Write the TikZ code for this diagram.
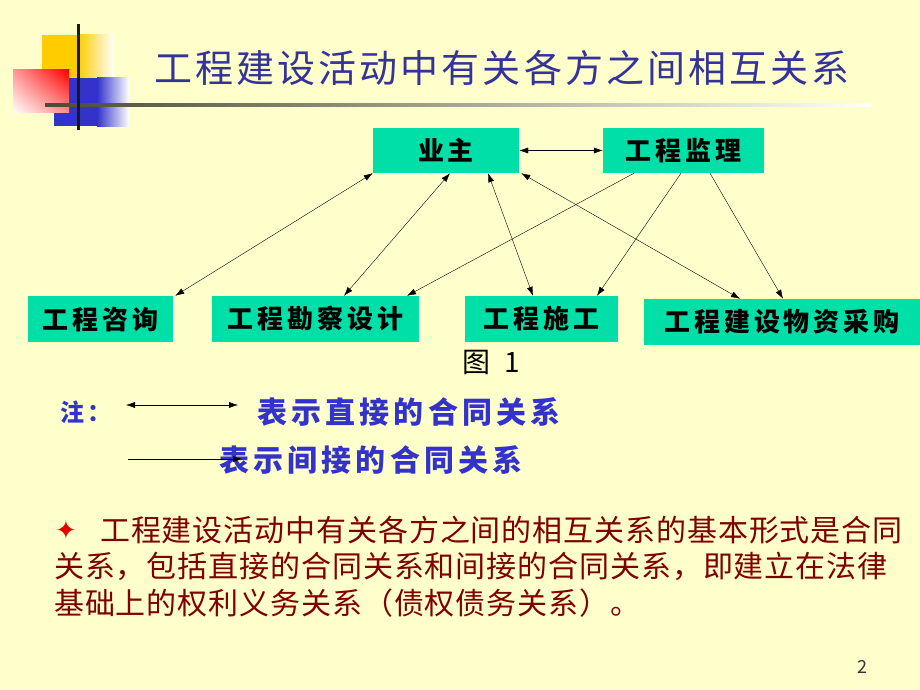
\documentclass[tikz,border=0pt]{standalone}
\usepackage{fontspec}
\setmainfont{Noto Sans CJK SC}
\newfontfamily\titlefont[LetterSpace=8]{Noto Sans CJK SC}
\newfontfamily\boxfont[LetterSpace=15]{Noto Sans CJK SC}
\newfontfamily\notefont[LetterSpace=14]{Noto Sans CJK SC}
\newfontfamily\bodyfont[LetterSpace=3]{Noto Sans CJK SC}
\newfontfamily\symfont{DejaVu Sans}
\usetikzlibrary{arrows.meta,shadings}
\definecolor{bg}{HTML}{FFFFCC}
\definecolor{boxgreen}{HTML}{00DFA8}
\definecolor{titleblue}{HTML}{333399}
\definecolor{noteblue}{HTML}{3333CC}
\definecolor{bodyred}{HTML}{800000}
\definecolor{gold}{HTML}{FFCC00}
\definecolor{decoblue}{HTML}{3333CC}
\definecolor{ruleline}{HTML}{4A4A35}
\begin{document}
\begin{tikzpicture}[x=1pt, y=-1pt,
  party/.style={fill=boxgreen, inner sep=0pt, minimum height=45pt,
    font=\boxfont\bfseries\fontsize{26}{30}\selectfont},
  both/.style={{Latex[length=9pt,width=6pt]}-{Latex[length=9pt,width=6pt]}},
  one/.style={-{Latex[length=9pt,width=6pt]}}]
\useasboundingbox[fill=bg] (0,0) rectangle (920,690);
% corner decoration
\fill[gold] (42,35) rectangle (78,78);
\shade[left color=gold, right color=white] (78,35) rectangle (114,78);
\fill[decoblue] (54,78) rectangle (97,126);
\shade[left color=decoblue, right color=white] (97,78) rectangle (129,126);
\shade[upper right=red, lower left=white, upper left=red!40!white, lower right=red!45!white]
  (13,70) rectangle (69,113);
\shade[left color=ruleline, right color=white] (45,104) rectangle (871,107);
\fill[black!90] (77,24) rectangle (80,130);
% title
\node (title) at (502,68) {\titlefont\color{titleblue}\fontsize{38}{44}\selectfont 工程建设活动中有关各方之间相互关系};
% parties
\node[party, minimum width=146pt] (yz) at (446,150.5) {业主};
\node[party, minimum width=161pt] (jl) at (683.5,150.5) {工程监理};
\node[party, minimum width=145pt, minimum height=46pt] (zx) at (100.5,319) {工程咨询};
\node[party, minimum width=207pt, minimum height=46pt] (kc) at (315.5,319) {工程勘察设计};
\node[party, minimum width=153pt, minimum height=46pt] (sg) at (541.5,319) {工程施工};
\node[party, minimum width=276pt, minimum height=46pt] (cg) at (782,322) {工程建设物资采购};
% relations
\draw[both] (yz) to (jl);
\draw[both] ([xshift=2pt]zx.north east) to (yz.south west);
\draw[both] ([xshift=28.5pt]kc.north) to ([xshift=4pt]yz.south);
\draw[both] ([xshift=-8.5pt]sg.north) to ([xshift=42pt]yz.south);
\draw[both] ([xshift=-42pt]cg.north) to ([xshift=2pt]yz.south east);
\draw[one] ([xshift=-49.5pt]jl.south) to ([xshift=91.5pt]kc.north);
\draw[one] ([xshift=-2.5pt]jl.south) to ([xshift=55.5pt]sg.north);
\draw[one] ([xshift=26.5pt]jl.south) to ([xshift=1pt]cg.north);
\node (fig) at (491,362) {\fontsize{28}{32}\selectfont 图\hspace{14pt}1};
% legend
\node[text=noteblue] (note) at (86,412) {\notefont\bfseries\fontsize{24}{28}\selectfont 注：};
\node[text=noteblue, anchor=west, inner sep=0pt] (direct) at (257,412) {\notefont\bfseries\fontsize{30}{34}\selectfont 表示直接的合同关系};
\node[text=noteblue, anchor=west, inner sep=0pt] (indirect) at (219,460) {\notefont\bfseries\fontsize{30}{34}\selectfont 表示间接的合同关系};
\coordinate (d1) at (126,405);
\coordinate (d2) at (238,405);
\coordinate (i1) at (128,459);
\coordinate (i2) at (242,459);
\draw[both] (d1) to (d2);
\draw[one] (i1) to (i2);
% remark
\node[text=red!90!black] (star) at (66,530) {\symfont\fontsize{26}{30}\selectfont ✦};
\node[text=bodyred, anchor=west, inner sep=0pt] (line1) at (100,530) {\bodyfont\fontsize{30}{35}\selectfont 工程建设活动中有关各方之间的相互关系的基本形式是合同};
\node[text=bodyred, anchor=west, inner sep=0pt] (line2) at (54,566) {\bodyfont\fontsize{30}{35}\selectfont 关系，包括直接的合同关系和间接的合同关系，即建立在法律};
\node[text=bodyred, anchor=west, inner sep=0pt] (line3) at (54,603) {\bodyfont\fontsize{30}{35}\selectfont 基础上的权利义务关系（债权债务关系）。};
\node[text=black!80] (page) at (862,667) {\fontsize{18}{22}\selectfont 2};
\end{tikzpicture}
\end{document}
